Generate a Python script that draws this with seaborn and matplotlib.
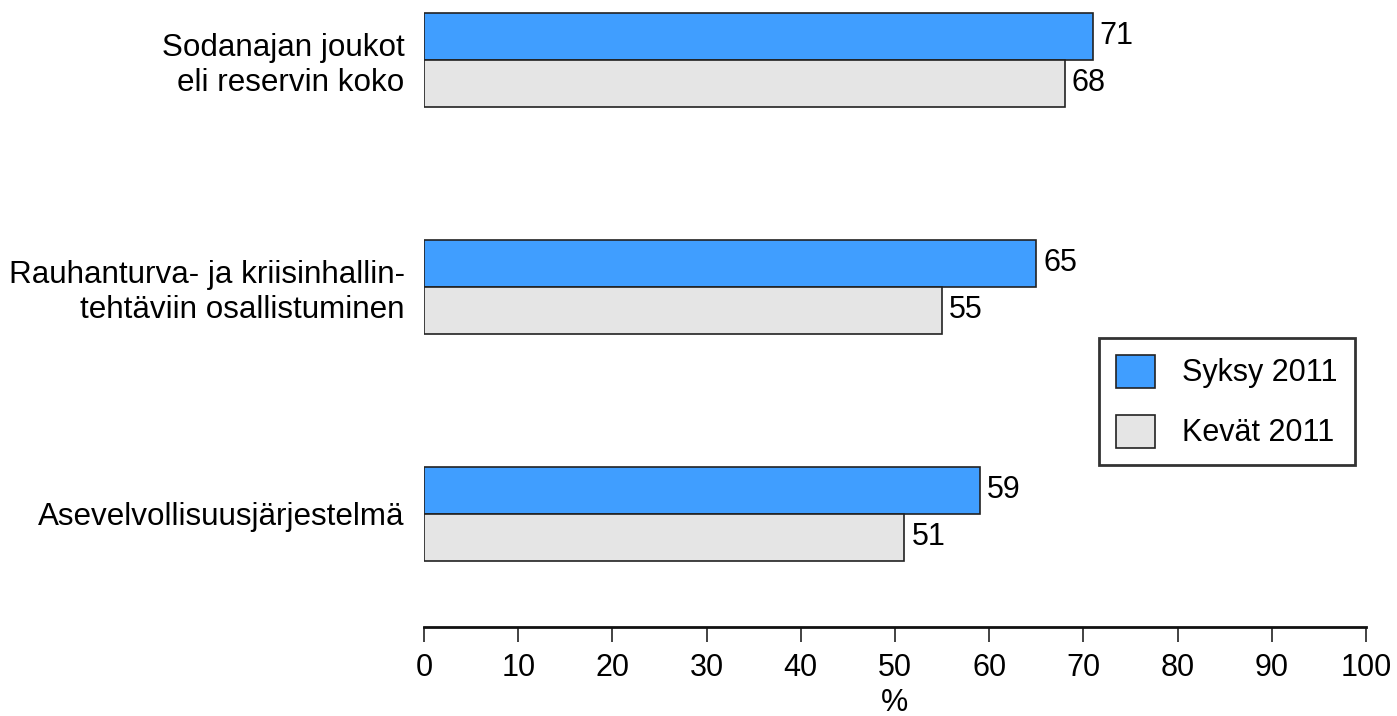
import seaborn as sns
import matplotlib.pyplot as plt
import pandas as pd

categories = ['Sodanajan joukot\neli reservin koko',
              'Rauhanturva- ja kriisinhallin-\ntehtäviin osallistuminen',
              'Asevelvollisuusjärjestelmä']
syksy_2011 = [71, 65, 59]
kevat_2011 = [68, 55, 51]
series = ['Syksy 2011', 'Kevät 2011']
xticks = list(range(0, 101, 10))

df = pd.DataFrame({
    'category': categories * 2,
    'value': syksy_2011 + kevat_2011,
    'series': [series[0]] * 3 + [series[1]] * 3,
})

sns.set_style('white', {'text.color': 'black', 'axes.labelcolor': 'black',
                        'xtick.color': 'black', 'ytick.color': 'black'})
plt.rcParams['font.family'] = ['Liberation Sans', 'DejaVu Sans']
fs = 22

fig = plt.figure(figsize=(13.97, 7.16), dpi=100)
ax = fig.add_axes([424 / 1397, 89 / 716, 942 / 1397, 627 / 716])

sns.barplot(data=df, x='value', y='category', hue='series',
            hue_order=series, order=categories,
            palette=['#409eff', '#e5e5e5'], orient='h',
            width=0.414, dodge=True, gap=0, saturation=1,
            edgecolor='#222222', linewidth=1.2, ax=ax)

for cont in ax.containers:
    ax.bar_label(cont, fmt='%d', padding=5, fontsize=fs, color='black')

ax.set_xlim(0, 100)
ax.set_ylim(2.5, -0.264)
ax.set_xticks(xticks)
ax.tick_params(axis='x', bottom=True, labelsize=fs, length=11, width=1.2,
               color='#222222', direction='out', pad=8, labelcolor='black')
ax.tick_params(axis='y', left=False, labelsize=22.6, length=0, pad=14,
               labelcolor='black')
for lab in ax.get_yticklabels():
    lab.set_horizontalalignment('right')
    lab.set_multialignment('right')
ax.set_ylabel('')
ax.set_xlabel('%', fontsize=fs, labelpad=3, color='black')

for s in ['top', 'right', 'left']:
    ax.spines[s].set_visible(False)
ax.spines['bottom'].set_color('#111111')
ax.spines['bottom'].set_linewidth(2)

leg = ax.legend(loc='upper right', bbox_to_anchor=(0.988, 0.461),
                fontsize=fs, frameon=True, fancybox=False,
                handlelength=1.28, handleheight=1.28, handletextpad=0.9,
                borderpad=0.55, labelspacing=0.86, borderaxespad=0)
leg.get_frame().set_edgecolor('black')
leg.get_frame().set_linewidth(2)
for t in leg.get_texts():
    t.set_color('black')

fig.savefig('out.png', dpi=100)
